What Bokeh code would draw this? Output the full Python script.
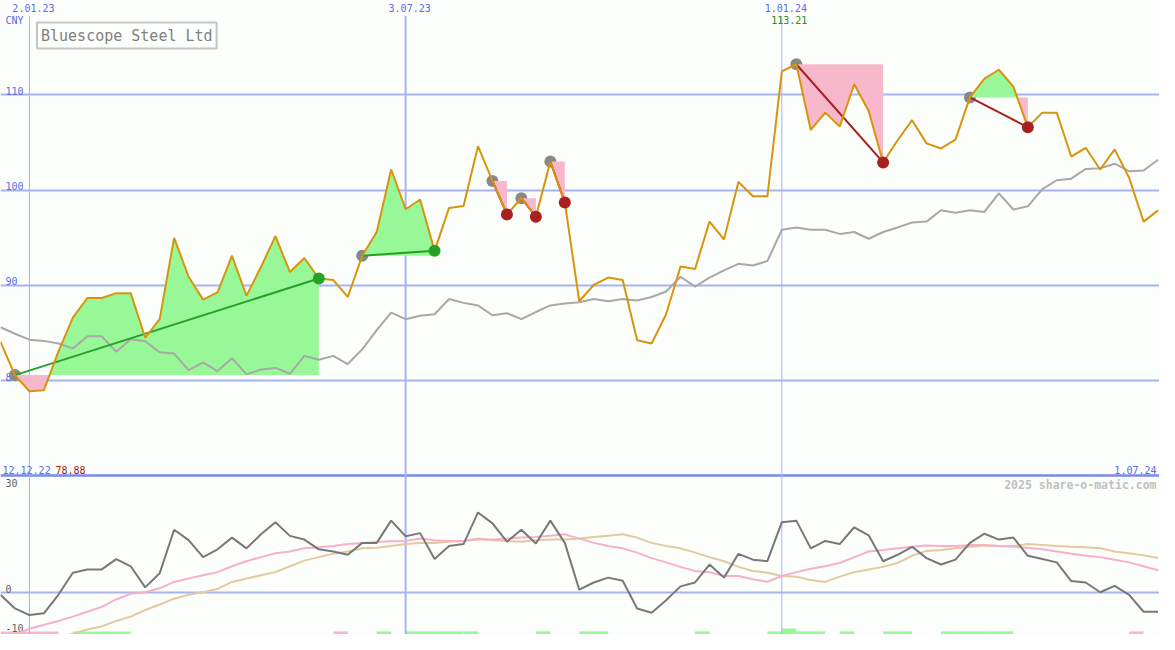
from bokeh.plotting import figure
from bokeh.models import Range1d, Label, Grid
from bokeh.core.properties import value
from bokeh.embed import file_html
from bokeh.resources import INLINE

# ---------------- data (weekly points, index 0 = 19.12.22) ----------------
price = [84.07, 80.58, 78.88, 79.0, 83.04, 86.62, 88.67, 88.67, 89.18, 89.18,
         84.5, 86.45, 94.99, 90.9, 88.5, 89.26, 93.11, 88.91, 91.92, 95.16,
         91.41, 92.87, 90.72, 90.55, 88.78, 93.11, 95.6, 102.16, 97.99, 99.01,
         93.62, 98.13, 98.33, 104.61, 100.96, 97.44, 99.15, 97.2, 103.0, 98.7,
         88.33, 90.04, 90.82, 90.55, 84.24, 83.89, 86.96, 91.98, 91.71, 96.69,
         94.82, 100.86, 99.35, 99.35, 112.46, 113.21, 106.31, 108.13, 106.66, 111.1,
         108.3, 102.9, 105.23, 107.34, 104.9, 104.37, 105.29, 109.73, 111.71, 112.63,
         110.86, 106.59, 108.13, 108.13, 103.52, 104.44, 102.16, 104.27, 101.3, 96.69,
         97.87]

moving_avg = [85.6, 84.92, 84.3, 84.17, 83.9, 83.38, 84.65, 84.65, 83.04, 84.34,
              84.14, 82.97, 82.84, 81.1, 81.92, 81.0, 82.36, 80.66, 81.17, 81.33,
              80.72, 82.6, 82.19, 82.6, 81.74, 83.28, 85.3, 87.14, 86.45, 86.8,
              86.96, 88.57, 88.16, 87.89, 86.86, 87.07, 86.45, 87.2, 87.89, 88.09,
              88.23, 88.57, 88.33, 88.57, 88.4, 88.78, 89.36, 90.9, 89.87, 90.82,
              91.57, 92.26, 92.08, 92.55, 95.84, 96.08, 95.84, 95.84, 95.4, 95.6,
              94.89, 95.6, 96.08, 96.59, 96.69, 97.89, 97.61, 97.89, 97.71, 99.66,
              97.96, 98.3, 100.11, 101.03, 101.2, 102.22, 102.29, 102.77, 101.98, 102.05,
              103.18]

osc_main = [-0.5, -4.0, -5.7, -5.25, -0.5, 5.15, 6.0, 6.0, 8.65, 6.8,
            1.4, 5.0, 16.15, 13.5, 9.15, 11.15, 14.15, 11.4, 15.0, 18.1,
            14.6, 13.65, 11.15, 10.6, 9.75, 12.8, 12.8, 18.5, 14.5, 15.3,
            8.65, 12.0, 12.5, 20.6, 17.8, 13.1, 16.15, 12.65, 18.5, 12.8,
            0.8, 2.65, 3.9, 3.1, -4.0, -5.1, -1.9, 1.65, 2.65, 7.25,
            3.9, 10.0, 8.5, 8.1, 18.1, 18.5, 11.4, 13.3, 12.5, 16.8,
            14.75, 8.1, 9.75, 11.8, 8.9, 7.25, 8.5, 12.8, 15.15, 13.65,
            14.15, 9.5, 8.65, 7.8, 3.0, 2.65, 0.15, 1.8, -0.5, -4.85,
            -4.85]

osc_fast = [-12.2, -10.7, -9.2, -8.2, -7.2, -6.1, -4.85, -3.6, -1.7, -0.25,
            0.15, 1.15, 2.8, 3.65, 4.5, 5.3, 6.8, 8.1, 9.15, 10.15,
            10.6, 11.4, 11.65, 12.0, 12.5, 12.8, 13.0, 13.2, 13.3, 13.9,
            13.5, 13.3, 13.3, 13.65, 13.65, 13.9, 14.15, 14.3, 14.65, 15.0,
            13.9, 12.8, 12.0, 11.4, 10.3, 8.9, 7.8, 6.65, 5.6, 5.3,
            4.3, 4.3, 3.5, 2.85, 4.3, 5.3, 6.15, 6.8, 7.65, 9.15,
            10.6, 11.0, 11.4, 11.8, 12.15, 12.0, 12.0, 12.25, 12.25, 12.0,
            11.8, 11.55, 11.15, 10.6, 10.0, 9.5, 9.15, 8.5, 7.8, 6.8,
            5.8]

osc_slow = [-16.0, -14.8, -13.7, -12.6, -11.5, -10.5, -9.4, -8.6, -7.2, -6.1,
            -4.4, -3.0, -1.5, -0.5, 0.15, 1.0, 2.8, 3.65, 4.5, 5.3,
            6.8, 8.25, 9.15, 10.0, 10.6, 11.4, 11.55, 12.0, 12.5, 12.8,
            12.8, 13.1, 13.3, 13.9, 13.5, 13.3, 13.1, 13.5, 13.65, 13.65,
            13.9, 14.3, 14.65, 15.0, 14.15, 12.8, 12.0, 11.4, 10.3, 9.15,
            8.1, 6.65, 5.6, 5.15, 4.3, 4.15, 3.3, 2.8, 4.15, 5.3,
            6.0, 6.65, 7.65, 9.5, 10.75, 11.0, 11.4, 11.8, 12.1, 12.0,
            12.0, 12.5, 12.25, 12.0, 11.8, 11.65, 11.4, 10.6, 10.15, 9.6,
            8.9]

signal_bars = [-1, -1, -1, -1, 0, 1, 1, 1, 1, 0,
               0, 0, 0, 0, 0, 0, 0, 0, 0, 0,
               0, 0, 0, -1, 0, 0, 1, 0, 1, 1,
               1, 1, 1, 0, 0, 0, 0, 1, 0, 0,
               1, 1, 0, 0, 0, 0, 0, 0, 1, 0,
               0, 0, 0, 1, 2, 1, 1, 0, 1, 0,
               0, 1, 1, 0, 0, 1, 1, 1, 1, 1,
               0, 0, 0, 0, 0, 0, 0, 0, -1, 0,
               0]

trade_entry = [1, 25, 34, 36, 38, 55, 67]
trade_exit = [22, 30, 35, 37, 39, 61, 71]

price_ticks = [80, 90, 100, 110]
osc_ticks = [30, 0, -10]
date_tick_pos = [2, 28, 54]
date_tick_labels = ["2.01.23", "3.07.23", "1.01.24"]
start_label = "12.12.22"
end_label = "1.07.24"
currency = "CNY"
title = "Bluescope Steel Ltd"
credit = "2025 share-o-matic.com"

# ---------------- styling ----------------
W, H = 1159, 634
BG = "#fcfefc"
GRID = "#a8b4f0"
SEP = "#7888ee"
BLUE = "#5a6ae8"
ORANGE = "#d8940a"
MA_C = "#a8a8a8"
FILL_G = "#98f898"
FILL_P = "#f8b8cc"
WIN = "#28a028"
LOSS = "#a82020"
FONT = value("DejaVu Sans Mono")

X0, X1 = 0.0, 80.1
Y0, Y1 = 53.35, 119.90
O0, O1 = -10.68, 151.8


def py(px):
    return Y1 - px / 650.0 * (Y1 - Y0)


def ox(px):
    return X0 + px / 1175.0 * (X1 - X0)


p = figure(width=W, height=H, x_range=Range1d(X0, X1), y_range=Range1d(Y0, Y1),
           output_backend="svg", toolbar_location=None,
           x_axis_location=None, y_axis_location=None, min_border=0,
           background_fill_color=BG, border_fill_color=BG, outline_line_color=None)
p.extra_y_ranges = {"osc": Range1d(O0, O1)}
p.center = [c for c in p.center if not isinstance(c, Grid)]

# bottom signal bars
bl, br, bt, bc = [], [], [], []
for i, s in enumerate(signal_bars):
    if s != 0:
        bl.append(i)
        br.append(i + 1)
        bt.append(O0 + (0.8 if abs(s) == 1 else 1.55))
        bc.append(FILL_G if s > 0 else FILL_P)
p.quad(left=bl, right=br, bottom=[O0] * len(bl), top=bt, fill_color=bc,
       line_color=None, y_range_name="osc")

# grid lines
p.hspan(y=price_ticks, line_color=GRID, line_width=2)
p.hspan(y=[0], line_color=GRID, line_width=2, y_range_name="osc")
p.hspan(y=[osc_ticks[0]], line_color=SEP, line_width=2.5, y_range_name="osc")
p.segment(x0=date_tick_pos, y0=[py(16)] * 3, x1=date_tick_pos, y1=[Y0] * 3,
          line_color=GRID, line_width=[1, 2, 1])

# axis texts
T = dict(text_font=FONT, text_font_size="10px")
p.text(x=date_tick_pos, y=[Y1] * 3, text=date_tick_labels, text_align="center",
       text_baseline="top", x_offset=4, y_offset=3, text_color=BLUE, **T)
p.text(x=[X0], y=[Y1], text=[currency], x_offset=5, y_offset=14,
       text_baseline="top", text_color=BLUE, **T)
p.text(x=[X0] * len(price_ticks), y=price_ticks, text=[str(t) for t in price_ticks],
       x_offset=5, text_baseline="bottom", text_color=BLUE, **T)

imax = max(range(len(price)), key=lambda k: price[k])
pmax, pmin = max(price), min(price)
p.text(x=[imax], y=[Y1], text=["%.2f" % pmax], text_align="center", x_offset=-7,
       y_offset=15, text_baseline="top", text_color="#209020", **T)
p.text(x=[X0], y=[osc_ticks[0]], text=[start_label], x_offset=2, y_offset=-2,
       text_baseline="bottom", text_color=BLUE, y_range_name="osc", **T)
p.text(x=[X0], y=[osc_ticks[0]], text=["%.2f" % pmin], x_offset=55, y_offset=-2,
       text_baseline="bottom", text_color="#a01818", y_range_name="osc", **T)
p.text(x=[X1], y=[osc_ticks[0]], text=[end_label], x_offset=-3, y_offset=-2,
       text_align="right", text_baseline="bottom", text_color=BLUE,
       y_range_name="osc", **T)
p.text(x=[X0], y=[osc_ticks[0]], text=[str(osc_ticks[0])], x_offset=5, y_offset=3,
       text_baseline="top", text_color="#606060", y_range_name="osc", **T)
p.text(x=[X0, X0], y=osc_ticks[1:], text=[str(t) for t in osc_ticks[1:]], x_offset=5,
       text_baseline="bottom", text_color="#606060", y_range_name="osc", **T)
p.text(x=[X1], y=[osc_ticks[0]], text=[credit], x_offset=-3, y_offset=2,
       text_align="right", text_baseline="top", text_color="#c0c0c0",
       text_font=FONT, text_font_size="11.5px", text_font_style="bold",
       y_range_name="osc")

# entry markers (beneath fills)
p.scatter(x=trade_entry, y=[price[i] for i in trade_entry], size=12,
          fill_color="#888888", line_color=None)

# trade fills
for a, b in zip(trade_entry, trade_exit):
    base = price[a]
    xx, yy = [a], [price[a]]
    for i in range(a, b):
        y0, y1 = price[i], price[i + 1]
        if (y0 - base) * (y1 - base) < 0:
            t = (base - y0) / (y1 - y0)
            xx.append(i + t)
            yy.append(base)
        xx.append(i + 1)
        yy.append(y1)
    up = [max(v, base) for v in yy]
    dn = [min(v, base) for v in yy]
    bs = [base] * len(xx)
    p.varea(x=xx, y1=bs, y2=up, fill_color=FILL_G)
    p.varea(x=xx, y1=dn, y2=bs, fill_color=FILL_P)

xs = list(range(len(price)))
p.line(xs, moving_avg, line_color=MA_C, line_width=2)

# oscillator panel
p.line(xs, osc_slow, line_color="#e2caa0", line_width=2, y_range_name="osc")
p.line(xs, osc_fast, line_color="#f8b0c8", line_width=2, y_range_name="osc")
p.line(xs, osc_main, line_color="#787878", line_width=2, y_range_name="osc")

# trade lines (under the price line)
tcol = [WIN if price[b] > price[a] else LOSS for a, b in zip(trade_entry, trade_exit)]
p.segment(x0=trade_entry, y0=[price[i] for i in trade_entry],
          x1=trade_exit, y1=[price[i] for i in trade_exit],
          line_color=tcol, line_width=2)

# price
p.line(xs, price, line_color=ORANGE, line_width=2)

# exit markers
p.scatter(x=trade_exit, y=[price[i] for i in trade_exit], size=12,
          fill_color=tcol, line_color=None)

# title box
p.add_layout(Label(x=ox(37), y=py(36), text=title, text_font="DejaVu Sans Mono",
                   text_font_size="15px", text_color="#808080", text_align="left",
                   text_baseline="middle", border_line_color="#c4c4c4",
                   border_line_width=2, background_fill_color=BG, padding=4))

open("out.html", "w").write(file_html(p, INLINE))
